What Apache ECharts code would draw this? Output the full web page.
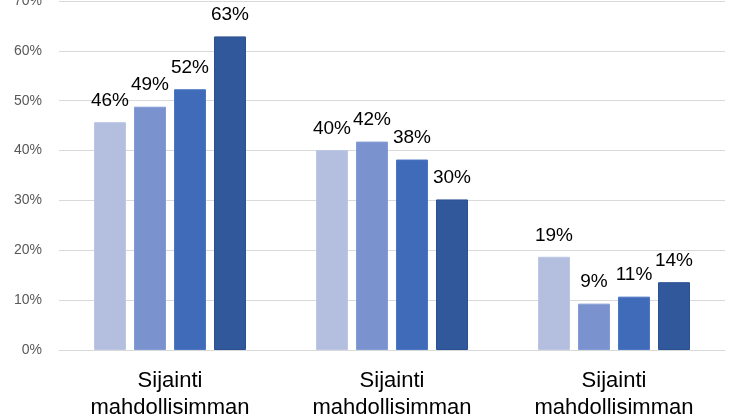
<!DOCTYPE html>
<html lang="fi" style="height: 100%">
<head>
  <meta charset="utf-8">
</head>
<body style="height: 100%; margin: 0; background: #fff">
  <div id="container" style="width: 746px; height: 419px"></div>

  <script type="text/javascript" src="https://cdn.jsdelivr.net/npm/echarts@6/dist/echarts.min.js"></script>

  <script type="text/javascript">
    // kategoriat (teksti katkeaa kuvan alareunassa)
    var categories = ['Sijainti\nmahdollisimman', 'Sijainti\nmahdollisimman', 'Sijainti\nmahdollisimman'];

    // neljä sarjaa, arvot luettu kuvasta (%)
    var series1 = [45.7, 40.1, 18.7];
    var series2 = [48.8, 41.8, 9.3];
    var series3 = [52.3, 38.2, 10.7];
    var series4 = [62.9, 30.2, 13.6];

    var colors = ['#b4bfdf', '#7a93cf', '#3f6bb8', '#30589a'];
    var borders = ['#bcc7e6', '#849cd6', '#4a76c4', '#2c5190'];

    var yTicks = { min: 0, max: 70, interval: 10 };

    var dom = document.getElementById('container');
    var myChart = echarts.init(dom, null, { renderer: 'canvas' });

    var font = '"Liberation Sans", Arial, sans-serif';

    function makeSeries(values, i) {
      return {
        type: 'bar',
        data: values,
        barWidth: 32,
        barGap: '25%',
        itemStyle: {
          color: colors[i],
          borderColor: borders[i],
          borderWidth: 1
        },
        label: {
          show: true,
          position: 'top',
          distance: 12,
          color: '#000',
          fontSize: 19,
          fontFamily: font,
          formatter: function (p) {
            return Math.round(p.value) + '%';
          }
        }
      };
    }

    var option = {
      animation: false,
      grid: { left: 59, right: 21, top: 1, bottom: 69, outerBoundsMode: 'none' },
      xAxis: {
        type: 'category',
        data: categories,
        axisLine: { lineStyle: { color: '#d9d9d9', width: 1 } },
        axisTick: { show: false },
        axisLabel: {
          color: '#000',
          fontSize: 22,
          fontFamily: font,
          lineHeight: 27,
          margin: 17
        }
      },
      yAxis: {
        type: 'value',
        min: yTicks.min,
        max: yTicks.max,
        interval: yTicks.interval,
        axisLine: { show: false },
        axisTick: { show: false },
        splitLine: { lineStyle: { color: '#d9d9d9', width: 1 } },
        axisLabel: {
          color: '#595959',
          fontSize: 14,
          fontFamily: font,
          margin: 17,
          formatter: '{value}%'
        }
      },
      series: [series1, series2, series3, series4].map(makeSeries)
    };

    myChart.setOption(option);
    window.addEventListener('resize', myChart.resize);
  </script>
</body>
</html>
